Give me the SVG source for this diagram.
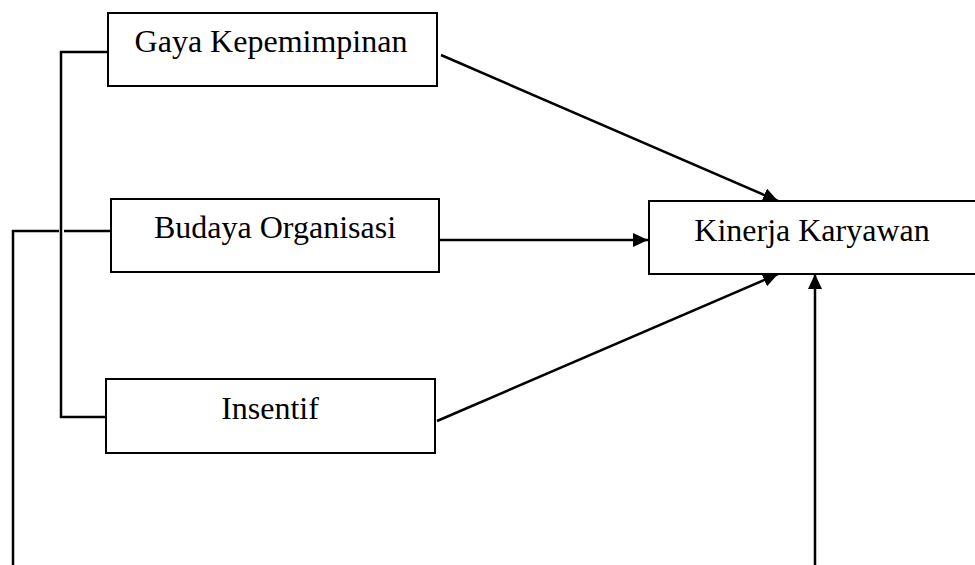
<svg xmlns="http://www.w3.org/2000/svg" width="975" height="565" viewBox="0 0 975 565">
<style>
.box{fill:#fff;stroke:#000;stroke-width:2}
.lbl{font-family:"Liberation Serif","Times New Roman",serif;font-size:32px;fill:#000;text-anchor:middle}
.ln{fill:none;stroke:#000;stroke-width:2.5}
</style>
<defs>
<marker id="ah" markerWidth="15" markerHeight="14" refX="15" refY="7" orient="auto" markerUnits="userSpaceOnUse" viewBox="0 0 15 14">
<path d="M0,0 L15,7 L0,14 Z" fill="#000"/>
</marker>
</defs>
<g id="connectors">
<path class="ln" d="M108,52 H61 V417 H107"/>
<path class="ln" d="M13,565 V231 H59 M64,231 H111"/>
<line class="ln" x1="441" y1="55" x2="778" y2="201" marker-end="url(#ah)"/>
<line class="ln" x1="439" y1="240" x2="648" y2="240" marker-end="url(#ah)"/>
<line class="ln" x1="437" y1="421" x2="778" y2="274" marker-end="url(#ah)"/>
<line class="ln" x1="815" y1="565" x2="815" y2="274" marker-end="url(#ah)"/>
</g>
<g id="gaya">
<rect class="box" x="108" y="13" width="329" height="73"/>
<text class="lbl" x="271" y="52">Gaya Kepemimpinan</text>
</g>
<g id="budaya">
<rect class="box" x="111" y="199" width="328" height="73"/>
<text class="lbl" x="275" y="238">Budaya Organisasi</text>
</g>
<g id="insentif">
<rect class="box" x="106" y="379" width="329" height="74"/>
<text class="lbl" x="270" y="419">Insentif</text>
</g>
<g id="kinerja">
<rect class="box" x="649" y="201" width="330" height="73"/>
<text class="lbl" x="812" y="241">Kinerja Karyawan</text>
</g>
</svg>
